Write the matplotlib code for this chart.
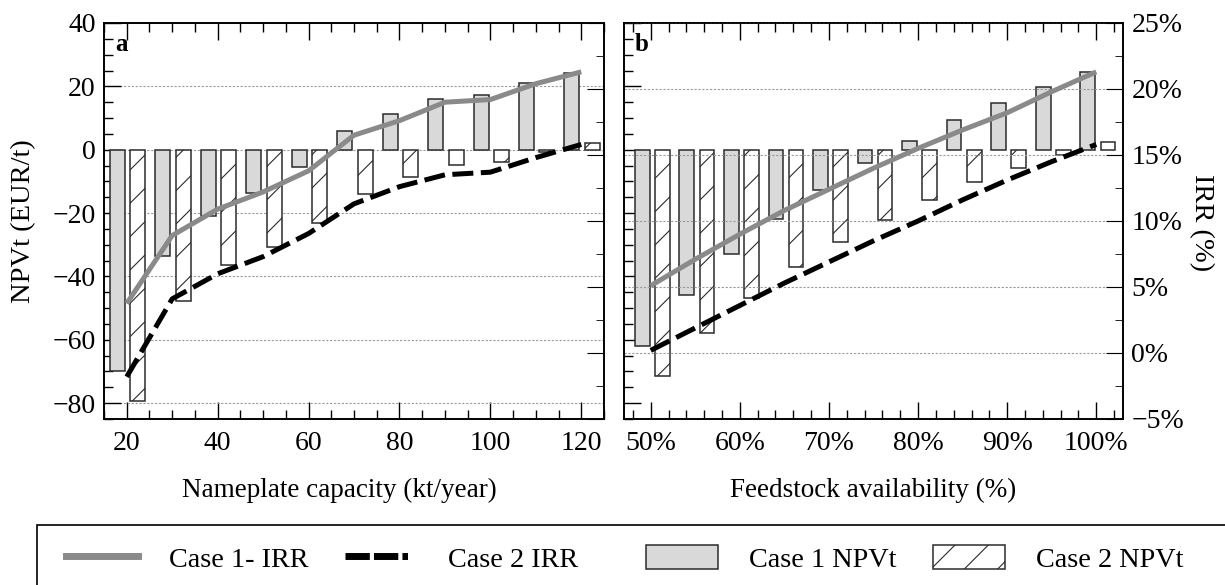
import numpy as np
import matplotlib
matplotlib.use("Agg")
import matplotlib.pyplot as plt
from matplotlib.ticker import MultipleLocator, FuncFormatter
from matplotlib.lines import Line2D
from matplotlib.patches import Patch, Rectangle

plt.rcParams['font.family'] = ['Liberation Serif', 'DejaVu Serif']
plt.rcParams['hatch.linewidth'] = 0.8
plt.rcParams['hatch.color'] = '#333333'

# panel a: nameplate capacity
capacity = [20, 30, 40, 50, 60, 70, 80, 90, 100, 110, 120]
npv_case1_cap = [-70, -33.7, -21, -13.7, -5.5, 6, 11.4, 16.1, 17.4, 21, 24.3]
npv_case2_cap = [-79.3, -47.6, -36.5, -30.7, -23, -13.9, -8.7, -4.7, -4, -0.7, 2.1]
irr_case1_cap = [3.75, 8.9, 10.9, 12.2, 13.8, 16.5, 17.6, 19.0, 19.2, 20.4, 21.3]
irr_case2_cap = [-1.8, 4.1, 6.0, 7.3, 9.05, 11.3, 12.6, 13.5, 13.7, 14.8, 15.8]

# panel b: feedstock availability (%)
feedstock = [50, 55, 60, 65, 70, 75, 80, 85, 90, 95, 100]
npv_case1_feed = [-62.1, -45.8, -32.9, -21.9, -12.6, -4.2, 2.9, 9.3, 14.7, 19.8, 24.4]
npv_case2_feed = [-71.3, -57.7, -46.7, -36.9, -29, -22.3, -16, -10.3, -5.8, -1.6, 2.3]
irr_case1_feed = [5.1, 7.1, 9.0, 10.8, 12.4, 14.0, 15.5, 16.9, 18.2, 19.8, 21.3]
irr_case2_feed = [0.2, 1.9, 3.6, 5.3, 6.9, 8.5, 10.0, 11.6, 13.1, 14.5, 15.8]

labels = ["Case 1- IRR", "Case 2 IRR", "Case 1 NPVt", "Case 2 NPVt"]

GREY_LINE = '#8a8a8a'
GREY_BAR = '#d9d9d9'
EDGE = '#2b2b2b'
DASH = (0, (4.2, 1.5))
TICK_FS = 20
XLABEL_FS = 19.5
YLABEL_FS = 20.5
LEGEND_FS = 20.3

fig = plt.figure(figsize=(12.25, 5.85), dpi=100)
ax1 = fig.add_axes([104 / 1225, 1 - 419 / 585, 500 / 1225, 396 / 585])
ax2 = fig.add_axes([624 / 1225, 1 - 419 / 585, 499 / 1225, 396 / 585])


def draw_panel(ax, x, npv1, npv2, irr1, irr2, width, off1, off2):
    x = np.array(x, dtype=float)
    ax.bar(x + off1, npv1, width=width, color=GREY_BAR, edgecolor=EDGE,
           linewidth=1.1, zorder=2)
    ax.bar(x + off2, npv2, width=width, color='white', edgecolor=EDGE,
           linewidth=1.1, hatch='/', zorder=2)
    axr = ax.twinx()
    axr.plot(x, irr1, color=GREY_LINE, lw=3.6, solid_capstyle='butt')
    axr.plot(x, irr2, color='black', lw=3.6, linestyle=DASH)
    axr.set_ylim(-5, 25)
    axr.yaxis.set_major_locator(MultipleLocator(5))
    axr.yaxis.set_minor_locator(MultipleLocator(2.5))
    axr.tick_params(axis='y', which='both', direction='in', right=True)
    axr.tick_params(axis='y', which='major', length=12)
    axr.tick_params(axis='y', which='minor', length=6)
    ax.set_ylim(-85, 40)
    ax.yaxis.set_major_locator(MultipleLocator(20))
    ax.yaxis.set_minor_locator(MultipleLocator(5))
    ax.tick_params(which='both', direction='in', top=True, right=False,
                   labelsize=TICK_FS)
    ax.tick_params(which='major', length=12.5, width=1)
    ax.tick_params(which='minor', length=6.5, width=1)
    ax.tick_params(axis='x', pad=9)
    for a in (ax, axr):
        for s in a.spines.values():
            s.set_linewidth(1.2)
    return axr


ax1r = draw_panel(ax1, capacity, npv_case1_cap, npv_case2_cap,
                  irr_case1_cap, irr_case2_cap, 3.3, -2.05, 2.45)
ax1.set_xlim(15, 125)
ax1.xaxis.set_major_locator(MultipleLocator(20))
ax1.xaxis.set_minor_locator(MultipleLocator(5))
ax1.grid(axis='y', which='major', linestyle=(0, (2, 1.5)), color='#9a9a9a',
         linewidth=0.8)
ax1.set_axisbelow(True)
ax1r.tick_params(axis='y', labelright=False)
ax1.tick_params(axis='y', pad=6)
ax1.set_ylabel("NPVt (EUR/t)", fontsize=YLABEL_FS, va='center')
ax1.yaxis.set_label_coords(-0.16, 0.5)
ax1.set_xlabel("Nameplate capacity (kt/year)", fontsize=XLABEL_FS, va='center')
ax1.xaxis.set_label_coords(0.47, -0.18)
ax1.text(0.022, 0.975, "a", transform=ax1.transAxes, fontsize=18,
         fontweight='bold', va='top', ha='left')

ax2r = draw_panel(ax2, feedstock, npv_case1_feed, npv_case2_feed,
                  irr_case1_feed, irr_case2_feed, 1.65, -0.95, 1.3)
ax2.set_xlim(47, 103)
ax2.xaxis.set_major_locator(MultipleLocator(10))
ax2.xaxis.set_minor_locator(MultipleLocator(2))
ax2.xaxis.set_major_formatter(FuncFormatter(lambda v, p: f"{v:.0f}%"))
ax2.tick_params(axis='y', labelleft=False)
ax2r.yaxis.set_major_formatter(
    FuncFormatter(lambda v, p: f"{v:.0f}%".replace('-', '\u2212')))
ax2r.tick_params(axis='y', labelsize=TICK_FS, pad=6)
ax2r.grid(axis='y', which='major', linestyle=(0, (2, 1.5)), color='#9a9a9a',
          linewidth=0.8)
ax2r.set_ylabel("IRR (%)", fontsize=YLABEL_FS, rotation=270, va='center',
                ha='center')
ax2r.yaxis.set_label_coords(1.158, 0.497)
ax2.set_xlabel("Feedstock availability (%)", fontsize=XLABEL_FS, va='center')
ax2.xaxis.set_label_coords(0.5, -0.18)
ax2.text(0.022, 0.975, "b", transform=ax2.transAxes, fontsize=18,
         fontweight='bold', va='top', ha='left')

# legend: one frame, two groups of entries
frame = Rectangle((37 / 1225, -0.1), 1.0, 1 - 525 / 585 + 0.1,
                  transform=fig.transFigure, fill=False, edgecolor='black',
                  linewidth=1.2)
fig.patches.append(frame)

line_handles = [Line2D([], [], color=GREY_LINE, lw=5),
                Line2D([], [], color='black', lw=5,
                       linestyle=(0, (3.5, 0.6, 3.5, 0.6, 0.8, 5)))]
bar_handles = [Patch(facecolor=GREY_BAR, edgecolor=EDGE, linewidth=1.1),
               Patch(facecolor='white', edgecolor=EDGE, linewidth=1.1, hatch='/')]

leg_kw = dict(ncol=2, frameon=False, fontsize=LEGEND_FS, handlelength=2.55,
              handleheight=0.9, handletextpad=1.1, columnspacing=1.3,
              loc='center left', borderaxespad=0, borderpad=0)
leg1 = fig.legend(line_handles, labels[:2], bbox_to_anchor=(66 / 1225, 1 - 559 / 585),
                  **leg_kw)
leg2 = fig.legend(bar_handles, labels[2:], bbox_to_anchor=(646 / 1225, 1 - 559 / 585),
                  **leg_kw)

fig.savefig("out.png", dpi=100)
